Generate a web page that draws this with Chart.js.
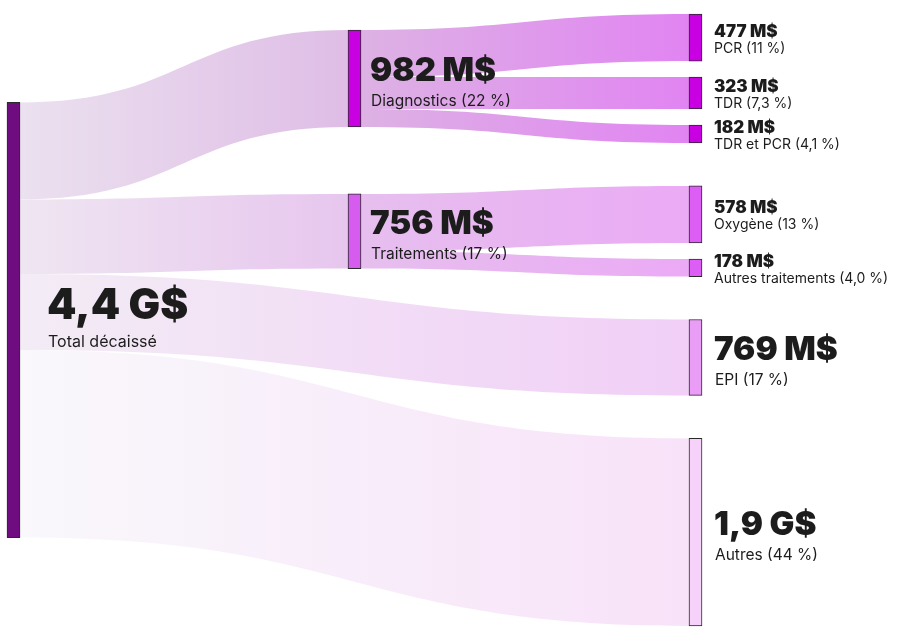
<!DOCTYPE html>
<html>
<head>
<meta charset="utf-8">
<script src="https://cdn.jsdelivr.net/npm/chart.js@4/dist/chart.umd.min.js"></script>
<style>
  html, body { margin: 0; padding: 0; background: #ffffff; }
  canvas { display: block; }
</style>
</head>
<body>
<canvas id="c" width="911" height="628"></canvas>
<script>
// ---- Data ----
const nodeNames   = ['Total décaissé', 'Diagnostics', 'Traitements', 'PCR', 'TDR', 'TDR et PCR', 'Oxygène', 'Autres traitements', 'EPI', 'Autres'];
const nodeValues  = [4407, 982, 756, 477, 323, 182, 578, 178, 769, 1900];   // M$
const valueLabels = ['4,4 G$', '982 M$', '756 M$', '477 M$', '323 M$', '182 M$', '578 M$', '178 M$', '769 M$', '1,9 G$'];
const shareLabels = ['', '22 %', '17 %', '11 %', '7,3 %', '4,1 %', '13 %', '4,0 %', '17 %', '44 %'];
const nodeColumns = [0, 1, 1, 2, 2, 2, 2, 2, 2, 2];
const linkSources = [0, 0, 0, 0, 1, 1, 1, 2, 2];
const linkTargets = [1, 2, 8, 9, 3, 4, 5, 6, 7];

// ---- Styles ----
const nodeColors = ['#6f0d80', '#c800e2', '#d65cef', '#c800e2', '#c800e2', '#c800e2', '#dc5ef5', '#dc5ef5', '#ea9df6', '#f6d2fb'];
const linkColorsLeft  = ['#ebe1ef', '#efe6f2', '#f3ecf5', '#f9f8fb', '#ddb2e4', '#ddb2e4', '#ddb2e4', '#e6bfee', '#e6bfee'];
const linkColorsRight = ['#dfbde6', '#e7c6ee', '#f1cff7', '#f8e2f9', '#e184f2', '#e184f2', '#e184f2', '#ebaaf5', '#ebaaf5'];
const GAP_SMALL = 162, GAP_BIG = 435;   // vertical padding between nodes, in value units
const NODE_W = 13;
const labelOffsetX = [27, 9, 12];

// ---- Layout (stack the last column, centre parents over children) ----
const nodeTop = new Array(nodeNames.length).fill(0);
const parentOf = {};
linkTargets.forEach((t, k) => { parentOf[t] = linkSources[k]; });
const childrenOf = n => linkTargets.filter((t, k) => linkSources[k] === n);
const groupOf = n => (nodeColumns[parentOf[n]] === 1 ? parentOf[n] : n);
const leaves = [];
(function walk(n) {
  childrenOf(n).forEach(c => { if (nodeColumns[c] === 2) leaves.push(c); else walk(c); });
})(0);
let cursor = 0;
leaves.forEach((n, i) => {
  if (i > 0) cursor += (groupOf(n) === groupOf(leaves[i - 1])) ? GAP_SMALL : GAP_BIG;
  nodeTop[n] = cursor;
  cursor += nodeValues[n];
});
const yMax = cursor;
[1, 2].forEach(p => {
  const kids = childrenOf(p);
  const a = Math.min(...kids.map(k => nodeTop[k]));
  const b = Math.max(...kids.map(k => nodeTop[k] + nodeValues[k]));
  nodeTop[p] = (a + b) / 2 - nodeValues[p] / 2;
});
nodeTop[0] = yMax / 2 - nodeValues[0] / 2;

// link offsets
const srcOff = new Array(nodeNames.length).fill(0);
const tgtOff = new Array(nodeNames.length).fill(0);
const links = linkSources.map((s, k) => {
  const t = linkTargets[k];
  const v = nodeValues[t];
  const l = { s, t, v, sy: nodeTop[s] + srcOff[s], ty: nodeTop[t] + tgtOff[t], k };
  srcOff[s] += v; tgtOff[t] += v;
  return l;
});

// ---- Plugin drawing links & labels ----
const sankeyPlugin = {
  id: 'sankey',
  beforeDatasetsDraw(chart) {
    const { ctx, scales: { x, y } } = chart;
    ctx.save();
    links.forEach(l => {
      const x0 = x.getPixelForValue(nodeColumns[l.s]) + NODE_W / 2;
      const x1 = x.getPixelForValue(nodeColumns[l.t]) - NODE_W / 2;
      const y0a = y.getPixelForValue(l.sy), y0b = y.getPixelForValue(l.sy + l.v);
      const y1a = y.getPixelForValue(l.ty), y1b = y.getPixelForValue(l.ty + l.v);
      const xm = (x0 + x1) / 2;
      const g = ctx.createLinearGradient(x0, 0, x1, 0);
      g.addColorStop(0, linkColorsLeft[l.k]);
      g.addColorStop(1, linkColorsRight[l.k]);
      ctx.fillStyle = g;
      ctx.beginPath();
      ctx.moveTo(x0, y0a);
      ctx.bezierCurveTo(xm, y0a, xm, y1a, x1, y1a);
      ctx.lineTo(x1, y1b);
      ctx.bezierCurveTo(xm, y1b, xm, y0b, x0, y0b);
      ctx.closePath();
      ctx.fill();
    });
    ctx.restore();
  },
  afterDatasetsDraw(chart) {
    const { ctx, scales: { x, y } } = chart;
    ctx.save();
    ctx.fillStyle = '#1c1c1c';
    ctx.textAlign = 'left';
    ctx.textBaseline = 'alphabetic';
    nodeNames.forEach((name, i) => {
      const col = nodeColumns[i];
      const lx = x.getPixelForValue(col) + NODE_W / 2 + labelOffsetX[col];
      const cy = (y.getPixelForValue(nodeTop[i]) + y.getPixelForValue(nodeTop[i] + nodeValues[i])) / 2;
      const sub = shareLabels[i] ? name + ' (' + shareLabels[i] + ')' : name;
      if (col === 0) {
        ctx.font = '900 42px Inter';
        ctx.fillText(valueLabels[i], lx, cy - 1);
        ctx.font = '400 16px Inter';
        ctx.fillText(sub, lx + 1, cy + 27);
      } else if (nodeValues[i] > 700) {
        ctx.font = '900 33px Inter';
        ctx.fillText(valueLabels[i], lx, cy + 3);
        ctx.font = '400 15.5px Inter';
        ctx.fillText(sub, lx + 1, cy + 28);
      } else {
        ctx.font = '900 17px Inter';
        ctx.fillText(valueLabels[i], lx, cy - 1);
        ctx.font = '400 14px Inter';
        ctx.fillText(sub, lx, cy + 15);
      }
    });
    ctx.restore();
  }
};

new Chart(document.getElementById('c'), {
  type: 'bar',
  data: {
    datasets: [{
      data: nodeNames.map((n, i) => ({ x: nodeColumns[i], y: [nodeTop[i], nodeTop[i] + nodeValues[i]] })),
      backgroundColor: nodeColors,
      borderColor: '#2a2a2a',
      borderWidth: 1,
      borderSkipped: false,
      barThickness: NODE_W,
      grouped: false,
      clip: false
    }]
  },
  options: {
    responsive: false,
    animation: false,
    layout: { padding: { left: 13.5, right: 215.5, top: 14, bottom: 2 } },
    scales: {
      x: { type: 'linear', min: 0, max: 2, offset: false, display: false },
      y: { min: 0, max: yMax, reverse: true, display: false }
    },
    plugins: { legend: { display: false }, tooltip: { enabled: false } }
  },
  plugins: [sankeyPlugin]
});
</script>
</body>
</html>
